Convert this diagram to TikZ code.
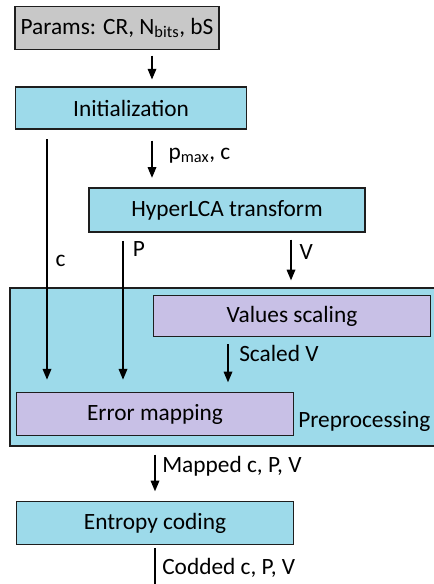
\documentclass[tikz,border=0pt]{standalone}
\usepackage{fontspec}
\setmainfont{Carlito}
\usetikzlibrary{arrows.meta}

\definecolor{boxblue}{HTML}{9DDAEA}
\definecolor{boxlilac}{HTML}{C8C0E6}
\definecolor{boxgray}{HTML}{C8C8C8}
\definecolor{edge}{HTML}{1E1E1E}

\tikzset{
  box/.style={draw=edge, line width=1.3pt, inner sep=0pt, fill=boxblue},
  sz/.style 2 args={minimum width=#1*0.75pt, minimum height=#2*0.75pt},
  arr/.style={-{Triangle[width=6.5pt,length=8pt]}, line width=0.9pt},
  lbl/.style={anchor=west, inner sep=0pt}
}

\begin{document}
\begin{tikzpicture}[x=0.75pt, y=-0.75pt, font=\fontsize{17.5}{20}\selectfont]

	\useasboundingbox (0,0) rectangle (433,584);

	% Preprocessing frame
	\node[box, sz={440}{158}, anchor=north west] (pre) at (9,287) {};
	\node[lbl] (prelbl) at (298,421) {Preprocessing};

	% Main boxes
	\node[box, fill=boxgray, sz={204}{43}] (params) at (117,28) {Params: CR, N\textsubscript{bits}, bS};
	\node[box, sz={231}{42}] (init) at (131,108) {Initialization};
	\node[box, sz={276}{44}] (hlca) at (227,210) {HyperLCA transform};
	\node[box, fill=boxlilac, sz={277}{41}] (scale) at (292,316) {Values scaling};
	\node[box, fill=boxlilac, sz={277}{43}] (errmap) at (155,414) {Error mapping};
	\node[box, sz={277}{43}] (entropy) at (155,523) {Entropy coding};

	% Arrow columns
	\coordinate (xc) at (47,0);
	\coordinate (xa) at (152,0);
	\coordinate (xp) at (123,0);
	\coordinate (xv) at (291,0);
	\coordinate (xs) at (228,0);
	\coordinate (xm) at (155,0);
	\coordinate (out) at (155,590);

	% Connectors
	\draw[arr, shorten <=4, shorten >=5] (params.south -| xa) -- (init.north -| xa);
	\draw[arr, shorten <=8, shorten >=7] (init.south -| xa) -- (hlca.north -| xa)
		node[lbl, pos=0.45, xshift=12] (l1) {p\textsubscript{max}, c};
	\draw[arr, shorten <=7, shorten >=9] (init.south -| xc) -- (errmap.north -| xc)
		node[lbl, pos=0.5, xshift=6] (l2) {c};
	\draw[arr, shorten <=6, shorten >=9] (hlca.south -| xp) -- (errmap.north -| xp)
		node[lbl, pos=0.1, xshift=7] (l3) {P};
	\draw[arr, shorten <=5, shorten >=5] (hlca.south -| xv) -- (pre.north -| xv)
		node[lbl, pos=0.35, xshift=6] (l4) {V};
	\draw[arr, shorten <=5, shorten >=7] (scale.south -| xs) -- (errmap.north -| xs)
		node[lbl, pos=0.3, xshift=8] (l5) {Scaled V};
	\draw[arr, shorten <=6, shorten >=7] (pre.south -| xm) -- (entropy.north -| xm)
		node[lbl, pos=0.37, xshift=5] (l6) {Mapped c, P, V};
	\draw[line width=0.9pt, shorten <=2] (entropy.south -| xm) -- (out)
		node[lbl, pos=0.5, xshift=5] (l7) {Codded c, P, V};

\end{tikzpicture}
\end{document}
